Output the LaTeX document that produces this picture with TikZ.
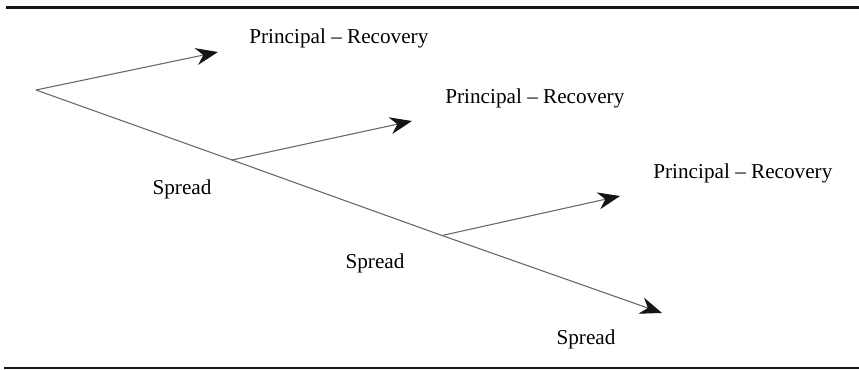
\documentclass[tikz,border=0pt]{standalone}
\usepackage{fontspec}
\setmainfont{Liberation Serif}
\usetikzlibrary{arrows.meta}
\definecolor{Ink}{HTML}{151515}
\definecolor{Stem}{HTML}{6A6A6A}
\tikzset{
  stem/.style={draw=Stem, line width=0.55pt,
    -{Stealth[length=11pt,width=8.5pt,inset=3.5pt,color=Ink]}},
  plain/.style={draw=Stem, line width=0.55pt},
  payoff/.style={anchor=west, inner sep=0pt, font=\fontsize{10.6}{12}\selectfont},
  spreadlbl/.style={inner sep=0pt, font=\fontsize{10.6}{12}\selectfont},
  rulebar/.style={draw=Ink, line width=1.1pt}
}
\begin{document}
\begin{tikzpicture}[x=0.5pt,y=-0.5pt]
  \useasboundingbox (0,0) rectangle (859,370);
  % rules above and below
  \draw[rulebar] (6,7.5) -- (859,7.5);
  \draw[rulebar] (4,368) -- (859,368);

  % points on the tree
  \coordinate (root) at (36,90);
  \coordinate (j1) at (232,160);
  \coordinate (j2) at (442,235.5);
  \coordinate (tip) at (662,313);
  \coordinate (p1) at (218,52);
  \coordinate (p2) at (412,121);
  \coordinate (p3) at (620,196);

  \draw[plain] (root) -- (j1);
  \draw[plain] (j1) -- (j2);
  \draw[stem] (j2) -- (tip);
  \draw[stem] (root) -- (p1);
  \draw[stem] (j1) -- (p2);
  \draw[stem] (j2) -- (p3);

  \node[payoff] (rec1) at (249,38) {Principal -- Recovery};
  \node[payoff] (rec2) at (445,98) {Principal -- Recovery};
  \node[payoff] (rec3) at (653,173) {Principal -- Recovery};

  \node[spreadlbl] (spr1) at (182,189) {Spread};
  \node[spreadlbl] (spr2) at (375,263) {Spread};
  \node[spreadlbl] (spr3) at (586,339) {Spread};
\end{tikzpicture}
\end{document}
